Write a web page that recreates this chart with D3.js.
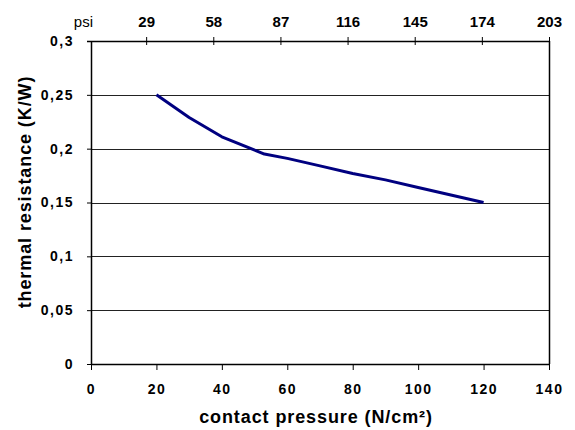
<!DOCTYPE html>
<html>
<meta charset="utf-8">
<style>
    body { margin: 0; background: #fff; }
    text { font-family: Arial, "Liberation Sans", sans-serif; fill: #000; }
    .tick-label { font-size: 14px; font-weight: bold; letter-spacing: 1.5px; }
    .psi-label { font-size: 15px; font-weight: bold; }
    .title { font-size: 18px; font-weight: bold; letter-spacing: 0.9px; }
    .grid { stroke: #222; stroke-width: 1; }
    .curve { fill: none; stroke: #000080; stroke-width: 3; stroke-linejoin: round; }
</style>
<body>
<script src="https://d3js.org/d3.v7.min.js"></script>
<script>

    var width = 575,
        height = 430;

    // contact pressure (N/cm²) vs thermal resistance (K/W)
    var pressure = [20, 30, 40, 53, 60, 70, 80, 90, 100, 110, 120];
    var resistance = [0.25, 0.229, 0.211, 0.195, 0.191, 0.184, 0.177, 0.171, 0.164, 0.157, 0.15];

    var xTicks = [0, 20, 40, 60, 80, 100, 120, 140];
    var yTicks = [0, 0.05, 0.1, 0.15, 0.2, 0.25, 0.3];
    var yTickLabels = ["0", "0,05", "0,1", "0,15", "0,2", "0,25", "0,3"];
    var psiTicks = [29, 58, 87, 116, 145, 174, 203];

    var plotLeft = 91, plotRight = 549, plotTop = 41, plotBottom = 364;

    var x = d3.scaleLinear().domain([0, 140]).range([plotLeft, plotRight]);
    var y = d3.scaleLinear().domain([0, 0.3]).range([plotBottom, plotTop]);
    // secondary psi axis as drawn in the original sheet
    var xPsi = d3.scaleLinear().domain([0, 203]).range([79, plotRight]);

    var svg = d3.select("body").append("svg")
        .attr("width", width)
        .attr("height", height);

    // horizontal gridlines
    svg.selectAll(".grid")
        .data(yTicks.slice(1, -1))
        .enter().append("line")
        .attr("class", "grid")
        .attr("x1", plotLeft).attr("x2", plotRight)
        .attr("y1", function (d) { return Math.round(y(d)) + 0.5; })
        .attr("y2", function (d) { return Math.round(y(d)) + 0.5; });

    // frame: left and right sides
    svg.append("line").attr("x1", plotLeft + 0.5).attr("x2", plotLeft + 0.5)
        .attr("y1", plotTop).attr("y2", plotBottom).attr("stroke", "#000").attr("stroke-width", 1.5);
    svg.append("line").attr("x1", plotRight + 0.5).attr("x2", plotRight + 0.5)
        .attr("y1", plotTop).attr("y2", plotBottom).attr("stroke", "#000").attr("stroke-width", 1.5);

    // bottom axis
    var xAxis = svg.append("g")
        .attr("transform", "translate(0," + plotBottom + ")")
        .call(d3.axisBottom(x).tickValues(xTicks).tickSize(6).tickFormat(d3.format("d")));
    xAxis.select(".domain").attr("stroke-width", 1.5).attr("d", "M" + plotLeft + ",0.5H" + plotRight);
    xAxis.selectAll("text").attr("class", "tick-label").attr("dy", null).attr("y", 30)
        .attr("font-family", null).attr("font-size", null);

    // left axis
    var yAxis = svg.append("g")
        .attr("transform", "translate(" + plotLeft + ",0)")
        .call(d3.axisLeft(y).tickValues(yTicks).tickSize(4)
            .tickFormat(function (d, i) { return yTickLabels[i]; }));
    yAxis.select(".domain").remove();
    yAxis.selectAll("text").attr("class", "tick-label").attr("x", -17)
        .attr("font-family", null).attr("font-size", null);
    yAxis.attr("font-family", null).attr("font-size", null);
    xAxis.attr("font-family", null).attr("font-size", null);

    // top psi axis
    var psiAxis = svg.append("g")
        .attr("transform", "translate(0," + plotTop + ")")
        .call(d3.axisTop(xPsi).tickValues(psiTicks).tickSizeInner(4).tickSizeOuter(0));
    psiAxis.attr("font-family", null).attr("font-size", null);
    psiAxis.select(".domain").attr("stroke-width", 1.5).attr("d", "M" + (plotLeft - 4) + ",0.5H" + plotRight);
    psiAxis.selectAll(".tick line").attr("y2", 4).attr("y1", -4);
    psiAxis.selectAll("text").attr("class", "psi-label").attr("dy", null).attr("y", -14)
        .attr("font-family", null).attr("font-size", null);

    svg.append("text")
        .attr("x", 93).attr("y", 27)
        .attr("text-anchor", "end")
        .style("font-size", "15px")
        .text("psi");

    // data line
    var line = d3.line()
        .x(function (d, i) { return x(pressure[i]); })
        .y(function (d) { return y(d); });

    svg.append("path")
        .datum(resistance)
        .attr("class", "curve")
        .attr("d", line);

    // axis titles
    svg.append("text")
        .attr("class", "title")
        .attr("x", 316).attr("y", 423)
        .attr("text-anchor", "middle")
        .text("contact pressure (N/cm²)");

    svg.append("text")
        .attr("class", "title")
        .attr("transform", "translate(31,192) rotate(-90)")
        .attr("text-anchor", "middle")
        .text("thermal resistance (K/W)");

</script>
</body>
</html>
